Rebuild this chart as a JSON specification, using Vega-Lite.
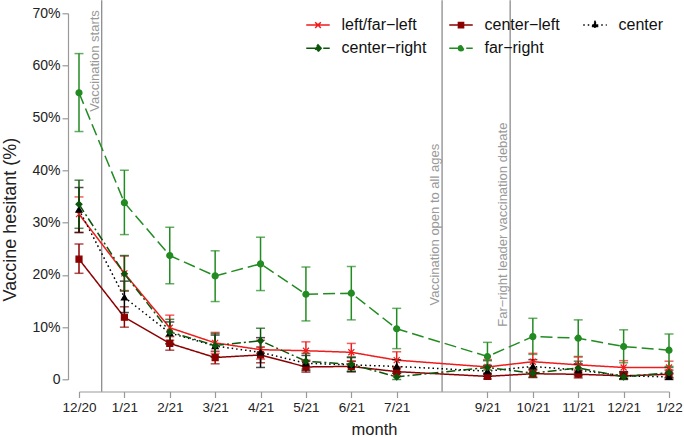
{
  "$schema": "https://vega.github.io/schema/vega-lite/v6.json",
  "autosize": "none",
  "width": 590,
  "height": 366.2,
  "padding": {"left": 79, "top": 13.3, "right": 15, "bottom": 57.5},
  "background": "white",
  "config": {
    "view": {"stroke": null},
    "font": "Liberation Sans",
    "axis": {"grid": false, "domainColor": "#999999", "tickColor": "#999999", "domainWidth": 1.2, "tickWidth": 1.2, "labelColor": "#222222", "titleColor": "#222222", "labelFont": "Liberation Sans", "titleFont": "Liberation Sans", "titleFontWeight": "normal"},
    "legend": {"labelFont": "Liberation Sans"}
  },
  "datasets": {
    "series": [
      {"g": "left/far−left", "m": 0, "v": 31.6, "lo": 28.1, "hi": 34.9},
      {"g": "left/far−left", "m": 1, "v": 20.3, "lo": 17.0, "hi": 23.6},
      {"g": "left/far−left", "m": 2, "v": 9.9, "lo": 7.5, "hi": 12.3},
      {"g": "left/far−left", "m": 3, "v": 7.0, "lo": 5.0, "hi": 9.0},
      {"g": "left/far−left", "m": 4, "v": 5.7, "lo": 3.9, "hi": 7.5},
      {"g": "left/far−left", "m": 5, "v": 5.5, "lo": 3.7, "hi": 7.2},
      {"g": "left/far−left", "m": 6, "v": 5.2, "lo": 3.5, "hi": 6.9},
      {"g": "left/far−left", "m": 7, "v": 3.7, "lo": 2.2, "hi": 5.3},
      {"g": "left/far−left", "m": 9, "v": 2.4, "lo": 1.0, "hi": 3.8},
      {"g": "left/far−left", "m": 10, "v": 3.4, "lo": 1.8, "hi": 5.0},
      {"g": "left/far−left", "m": 11, "v": 2.8, "lo": 1.4, "hi": 4.3},
      {"g": "left/far−left", "m": 12, "v": 2.3, "lo": 1.0, "hi": 3.6},
      {"g": "left/far−left", "m": 13, "v": 2.3, "lo": 1.0, "hi": 3.5},
      {"g": "center−left", "m": 0, "v": 23.0, "lo": 20.3, "hi": 25.9},
      {"g": "center−left", "m": 1, "v": 11.9, "lo": 10.0, "hi": 13.9},
      {"g": "center−left", "m": 2, "v": 6.9, "lo": 5.6, "hi": 8.2},
      {"g": "center−left", "m": 3, "v": 4.2, "lo": 3.0, "hi": 5.4},
      {"g": "center−left", "m": 4, "v": 4.7, "lo": 3.2, "hi": 6.2},
      {"g": "center−left", "m": 5, "v": 2.4, "lo": 1.4, "hi": 3.5},
      {"g": "center−left", "m": 6, "v": 2.5, "lo": 1.5, "hi": 3.5},
      {"g": "center−left", "m": 7, "v": 1.5, "lo": 0.7, "hi": 2.4},
      {"g": "center−left", "m": 9, "v": 0.6, "lo": 0.1, "hi": 1.2},
      {"g": "center−left", "m": 10, "v": 1.1, "lo": 0.4, "hi": 1.9},
      {"g": "center−left", "m": 11, "v": 1.0, "lo": 0.3, "hi": 1.8},
      {"g": "center−left", "m": 12, "v": 0.7, "lo": 0.1, "hi": 1.4},
      {"g": "center−left", "m": 13, "v": 1.0, "lo": 0.3, "hi": 1.8},
      {"g": "center", "m": 0, "v": 32.5, "lo": 28.1, "hi": 36.7},
      {"g": "center", "m": 1, "v": 15.7, "lo": 12.8, "hi": 18.8},
      {"g": "center", "m": 2, "v": 8.9, "lo": 6.8, "hi": 11.0},
      {"g": "center", "m": 3, "v": 6.4, "lo": 4.3, "hi": 8.5},
      {"g": "center", "m": 4, "v": 5.2, "lo": 2.3, "hi": 8.0},
      {"g": "center", "m": 5, "v": 3.1, "lo": 1.7, "hi": 4.6},
      {"g": "center", "m": 6, "v": 2.8, "lo": 1.5, "hi": 4.2},
      {"g": "center", "m": 7, "v": 2.5, "lo": 1.2, "hi": 3.8},
      {"g": "center", "m": 9, "v": 1.6, "lo": 0.6, "hi": 2.7},
      {"g": "center", "m": 10, "v": 2.5, "lo": 1.2, "hi": 3.8},
      {"g": "center", "m": 11, "v": 1.8, "lo": 0.7, "hi": 3.0},
      {"g": "center", "m": 12, "v": 0.7, "lo": 0.1, "hi": 1.5},
      {"g": "center", "m": 13, "v": 0.5, "lo": 0.0, "hi": 1.2},
      {"g": "center−right", "m": 0, "v": 33.5, "lo": 28.9, "hi": 38.1},
      {"g": "center−right", "m": 1, "v": 20.2, "lo": 16.9, "hi": 23.7},
      {"g": "center−right", "m": 2, "v": 9.1, "lo": 6.9, "hi": 11.5},
      {"g": "center−right", "m": 3, "v": 6.5, "lo": 4.3, "hi": 8.8},
      {"g": "center−right", "m": 4, "v": 7.4, "lo": 5.0, "hi": 9.8},
      {"g": "center−right", "m": 5, "v": 3.5, "lo": 2.0, "hi": 5.0},
      {"g": "center−right", "m": 6, "v": 2.9, "lo": 1.6, "hi": 4.3},
      {"g": "center−right", "m": 7, "v": 0.5, "lo": 0.0, "hi": 1.2},
      {"g": "center−right", "m": 9, "v": 2.3, "lo": 1.0, "hi": 3.6},
      {"g": "center−right", "m": 10, "v": 1.2, "lo": 0.4, "hi": 2.2},
      {"g": "center−right", "m": 11, "v": 2.2, "lo": 1.0, "hi": 3.5},
      {"g": "center−right", "m": 12, "v": 0.5, "lo": 0.0, "hi": 1.2},
      {"g": "center−right", "m": 13, "v": 1.3, "lo": 0.4, "hi": 2.3},
      {"g": "far−right", "m": 0, "v": 54.8, "lo": 47.4, "hi": 62.3},
      {"g": "far−right", "m": 1, "v": 33.8, "lo": 27.7, "hi": 40.0},
      {"g": "far−right", "m": 2, "v": 23.7, "lo": 18.3, "hi": 29.1},
      {"g": "far−right", "m": 3, "v": 19.8, "lo": 14.9, "hi": 24.6},
      {"g": "far−right", "m": 4, "v": 22.1, "lo": 17.0, "hi": 27.2},
      {"g": "far−right", "m": 5, "v": 16.3, "lo": 11.2, "hi": 21.5},
      {"g": "far−right", "m": 6, "v": 16.5, "lo": 11.4, "hi": 21.6},
      {"g": "far−right", "m": 7, "v": 9.7, "lo": 5.9, "hi": 13.6},
      {"g": "far−right", "m": 9, "v": 4.4, "lo": 1.8, "hi": 7.1},
      {"g": "far−right", "m": 10, "v": 8.2, "lo": 4.8, "hi": 11.7},
      {"g": "far−right", "m": 11, "v": 7.9, "lo": 4.4, "hi": 11.4},
      {"g": "far−right", "m": 12, "v": 6.3, "lo": 3.2, "hi": 9.5},
      {"g": "far−right", "m": 13, "v": 5.6, "lo": 2.5, "hi": 8.7}
    ],
    "events": [
      {"m": 0.5, "event": "Vaccination starts"},
      {"m": 8, "event": "Vaccination open to all ages"},
      {"m": 9.5, "event": "Far−right leader vaccination debate"}
    ]
  },
  "layer": [
    {
      "data": {"name": "events"},
      "mark": {"type": "rule", "color": "#8c8c8c", "strokeWidth": 1.3},
      "encoding": {
        "x": {"field": "m", "type": "quantitative", "title": "month", "scale": {"domain": [0, 13], "nice": false, "zero": false},
          "axis": {"title": "month", "values": [0, 1, 2, 3, 4, 5, 6, 7, 9, 10, 11, 12, 13],
            "labelExpr": "['12/20','1/21','2/21','3/21','4/21','5/21','6/21','7/21','8/21','9/21','10/21','11/21','12/21','1/22'][datum.value]",
            "offset": 12, "tickSize": 6, "labelPadding": 2.5, "labelFontSize": 13.5, "titleFontSize": 16.5, "titlePadding": 8, "labelFlush": false, "labelOverlap": false}},
        "y": {"datum": 72.5, "type": "quantitative", "title": "Vaccine hesitant (%)", "scale": {"domain": [0, 70], "nice": false},
          "axis": {"title": "Vaccine hesitant (%)", "values": [0, 10, 20, 30, 40, 50, 60, 70],
            "labelExpr": "datum.value === 0 ? '0' : datum.value + '%'",
            "offset": 11, "tickSize": 6, "labelPadding": 2, "labelFontSize": 14, "titleFontSize": 18, "titlePadding": 12, "titleY": 205.7}},
        "y2": {"datum": -2.35}
      }
    },
    {
      "data": {"name": "events"},
      "transform": [{"filter": "datum.m === 0.5"}],
      "mark": {"type": "text", "angle": 270, "baseline": "bottom", "align": "right", "fontSize": 13, "color": "#999999", "font": "Liberation Sans"},
      "encoding": {
        "x": {"field": "m", "type": "quantitative", "title": "month"},
        "y": {"datum": 70.6, "type": "quantitative", "title": "Vaccine hesitant (%)"},
        "text": {"field": "event"}
      }
    },
    {
      "data": {"name": "events"},
      "transform": [{"filter": "datum.m > 1"}],
      "mark": {"type": "text", "angle": 270, "baseline": "bottom", "align": "center", "fontSize": 13, "color": "#999999", "font": "Liberation Sans"},
      "encoding": {
        "x": {"field": "m", "type": "quantitative", "title": "month"},
        "y": {"datum": 29.6, "type": "quantitative", "title": "Vaccine hesitant (%)"},
        "text": {"field": "event"}
      }
    },
    {
      "data": {"name": "series"},
      "mark": {"type": "line", "strokeWidth": 1.5},
      "encoding": {
        "x": {"field": "m", "type": "quantitative", "title": "month"},
        "y": {"field": "v", "type": "quantitative", "title": "Vaccine hesitant (%)"},
        "color": {"field": "g", "type": "nominal",
          "scale": {"domain": ["left/far−left", "center−left", "center", "center−right", "far−right"], "range": ["#ee1c1c", "#8b0000", "#000000", "#0b560b", "#228b22"]},
          "legend": {"title": null, "orient": "none", "legendX": 226.5, "legendY": -1, "columns": 3, "direction": "horizontal",
            "symbolSize": 552, "symbolStrokeWidth": 1.5, "labelFontSize": 16, "labelColor": "#111111", "labelOffset": 11,
            "columnPadding": 19, "rowPadding": 2.5, "padding": 0, "gridAlign": "each", "labelLimit": 300,
            "encode": {"symbols": {"update": {
              "shape": {"signal": "datum.value === 'left/far−left' ? 'M-1,0H1M-0.24,-0.24L0.24,0.24M-0.24,0.24L0.24,-0.24' : datum.value === 'center−left' ? 'M-1,0H1M-0.22,-0.22H0.22V0.22H-0.22Z' : datum.value === 'center' ? 'M-1,0H1M0,-0.3L0.27,0.18H-0.27Z' : datum.value === 'center−right' ? 'M-1,0H1M0,-0.29L0.27,0L0,0.29L-0.27,0Z' : 'M-1,0H1M0.21,0A0.21,0.21,0,1,1,-0.21,0A0.21,0.21,0,1,1,0.21,0Z'"},
              "fill": {"signal": "datum.value === 'left/far−left' ? 'transparent' : scale('color', datum.value)"},
              "stroke": {"signal": "scale('color', datum.value)"},
              "strokeDash": {"signal": "scale('strokeDash', datum.value)"},
              "strokeWidth": {"value": 1.5},
              "size": {"value": 552},
              "opacity": {"value": 1}
            }}}}
        },
        "strokeDash": {"field": "g", "type": "nominal", "legend": null,
          "scale": {"domain": ["left/far−left", "center−left", "center", "center−right", "far−right"], "range": [[1, 0], [1, 0], [1.5, 3], [9, 3, 2, 3], [12, 5]]}}
      }
    },
    {
      "data": {"name": "series"},
      "mark": {"type": "errorbar", "ticks": true, "thickness": 1.5, "size": 9},
      "encoding": {
        "x": {"field": "m", "type": "quantitative", "title": "month"},
        "y": {"field": "lo", "type": "quantitative", "title": "Vaccine hesitant (%)"},
        "y2": {"field": "hi"},
        "color": {"field": "g", "type": "nominal"}
      }
    },
    {
      "data": {"name": "series"},
      "mark": {"type": "point", "filled": true, "size": 36, "strokeWidth": 1.2, "opacity": 1},
      "encoding": {
        "x": {"field": "m", "type": "quantitative", "title": "month"},
        "y": {"field": "v", "type": "quantitative", "title": "Vaccine hesitant (%)"},
        "color": {"field": "g", "type": "nominal"},
        "stroke": {"field": "g", "type": "nominal", "legend": null,
          "scale": {"domain": ["far−right", "center−right", "center", "center−left", "left/far−left"], "range": ["#228b22", "#0b560b", "#000000", "#8b0000", "#ee1c1c"]}},
        "shape": {"field": "g", "type": "nominal", "legend": null,
          "scale": {"domain": ["far−right", "center−right", "center", "center−left", "left/far−left"], "range": ["circle", "diamond", "triangle-up", "square", "M-1,-1L1,1M-1,1L1,-1"]}}
      }
    }
  ]
}
